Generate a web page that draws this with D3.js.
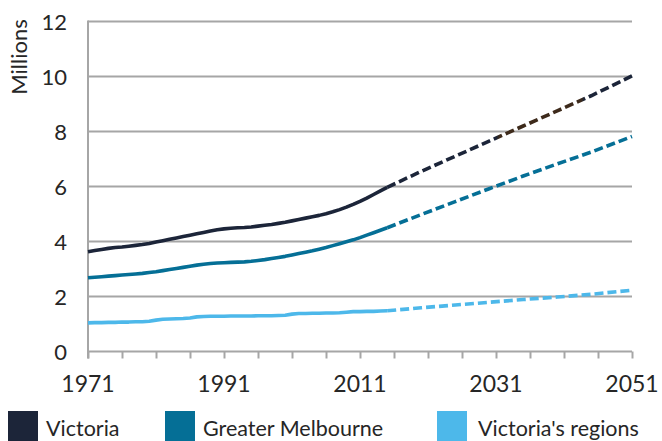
<!DOCTYPE html>
<html><head><meta charset="utf-8">
<script src="https://cdn.jsdelivr.net/npm/d3@7"></script>
<style>
html,body{margin:0;padding:0;background:#fff;}
svg text{font-family:Lato,"Open Sans",sans-serif;fill:#262626;}
</style></head>
<body><svg id="c" width="662" height="441"></svg>
<script>
// Historical (annual, 1971-2015)
const histYears = d3.range(1971, 2016);
const victoriaHist = [3.63,3.67,3.71,3.75,3.78,3.80,3.83,3.86,3.89,3.93,3.98,4.03,4.08,4.13,4.18,4.23,4.28,4.33,4.38,4.43,4.46,4.48,4.50,4.51,4.53,4.56,4.59,4.62,4.66,4.70,4.75,4.80,4.85,4.90,4.95,5.01,5.08,5.16,5.25,5.35,5.46,5.58,5.71,5.84,5.97];
const melbourneHist = [2.68,2.70,2.72,2.74,2.76,2.78,2.80,2.82,2.84,2.87,2.90,2.94,2.98,3.02,3.06,3.10,3.14,3.17,3.20,3.22,3.23,3.24,3.25,3.26,3.28,3.31,3.34,3.38,3.42,3.46,3.51,3.56,3.61,3.66,3.72,3.78,3.85,3.92,3.99,4.06,4.14,4.23,4.32,4.41,4.50];
const regionsHist = [1.04,1.05,1.05,1.06,1.06,1.07,1.07,1.08,1.08,1.10,1.14,1.17,1.18,1.19,1.20,1.22,1.26,1.27,1.28,1.28,1.28,1.29,1.29,1.29,1.29,1.30,1.30,1.30,1.31,1.32,1.36,1.38,1.38,1.39,1.39,1.40,1.40,1.41,1.43,1.45,1.45,1.46,1.46,1.47,1.48];
// Projections
const projYears = [2015,2020,2025,2030,2035,2040,2045,2051];
const victoriaProj = [5.97,6.55,7.10,7.65,8.20,8.75,9.30,10.02];
const melbourneProj = [4.50,4.98,5.45,5.92,6.38,6.82,7.25,7.82];
const regionsProj = [1.48,1.59,1.69,1.79,1.89,1.98,2.08,2.23];

const seriesNames = ["Victoria","Greater Melbourne","Victoria's regions"];
const seriesColors = ["#1c2539","#056f96","#4db8ea"];
const yTicks = [0,2,4,6,8,10,12];
const xLabelTicks = [1971,1991,2011,2031,2051];
const xMinorTicks = d3.range(1971, 2052, 5);

const svg = d3.select("#c");
const x = d3.scaleLinear().domain([1971,2051]).range([88,632]);
const y = d3.scaleLinear().domain([0,12]).range([351.5,21.5]);

// gridlines
svg.append("g").selectAll("line").data(yTicks.filter(d=>d>0)).join("line")
  .attr("x1",88).attr("x2",632).attr("y1",d=>y(d)).attr("y2",d=>y(d))
  .attr("stroke","#a6a6a6").attr("stroke-width",2);

// x axis
const xa = svg.append("g").attr("transform",`translate(0,${y(0)})`)
  .call(d3.axisBottom(x).tickValues(xMinorTicks).tickSize(7).tickFormat(""));
xa.select(".domain").attr("stroke","#a6a6a6").attr("stroke-width",2).attr("d",`M88,0H632`);
xa.selectAll(".tick line").attr("stroke","#a6a6a6").attr("stroke-width",2);
svg.append("g").selectAll("text").data(xLabelTicks).join("text")
  .attr("x",d=>x(d)).attr("y",392).attr("text-anchor","middle")
  .attr("font-size",23).text(d=>d);

// y axis
svg.append("line").attr("x1",88).attr("x2",88).attr("y1",y(12)-1).attr("y2",y(0)+7)
  .attr("stroke","#a6a6a6").attr("stroke-width",2);
svg.append("g").selectAll("text").data(yTicks).join("text")
  .attr("x",67).attr("y",d=>y(d)+8).attr("text-anchor","end")
  .attr("font-size",22).text(d=>d);
svg.append("text").attr("transform","translate(27,57) rotate(-90)")
  .attr("text-anchor","middle").attr("font-size",22).text("Millions");

// brownish tint on part of Victoria projection (as in reference)
const defs = svg.append("defs");
const grad = defs.append("linearGradient").attr("id","vicGrad")
  .attr("gradientUnits","userSpaceOnUse").attr("x1",x(2015)).attr("x2",x(2051)).attr("y1",0).attr("y2",0);
const gx = v => (x(v)-x(2015))/(x(2051)-x(2015));
[[2015,"#1c2539"],[2031,"#1c2539"],[2031.5,"#3d2a1b"],[2043.5,"#3d2a1b"],[2044,"#1c2539"],[2051,"#1c2539"]]
  .forEach(([v,c])=>grad.append("stop").attr("offset",gx(v)).attr("stop-color",c));

const line = d3.line().x(d=>x(d[0])).y(d=>y(d[1]));
const hist = [victoriaHist, melbourneHist, regionsHist];
const proj = [victoriaProj, melbourneProj, regionsProj];
[2,1,0].forEach(i=>{
  svg.append("path").attr("d",line(projYears.map((yr,j)=>[yr,proj[i][j]])))
    .attr("fill","none").attr("stroke", i===0 ? "url(#vicGrad)" : seriesColors[i])
    .attr("stroke-width",3.6).attr("stroke-dasharray","9,4");
  svg.append("path").attr("d",line(histYears.map((yr,j)=>[yr,hist[i][j]])))
    .attr("fill","none").attr("stroke",seriesColors[i]).attr("stroke-width",3.6)
    .attr("stroke-linejoin","round");
});

// legend
const legX = [8,165,437];
const lg = svg.append("g").selectAll("g").data(seriesNames).join("g")
  .attr("transform",(d,i)=>`translate(${legX[i]},411)`);
lg.append("rect").attr("width",30).attr("height",30).attr("fill",(d,i)=>seriesColors[i]);
lg.append("text").attr("x",d=>d==="Victoria's regions"?41:38).attr("y",25).attr("font-size",21.5).text(d=>d);
</script></body></html>
